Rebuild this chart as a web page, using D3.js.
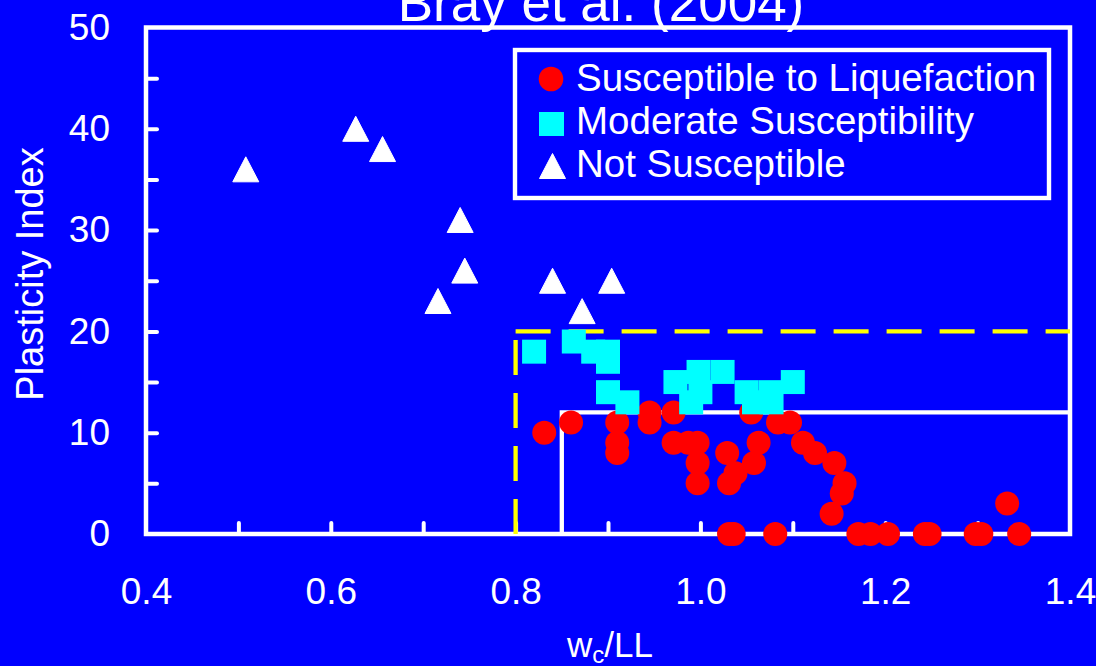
<!DOCTYPE html>
<html><head><meta charset="utf-8">
<script src="https://cdn.jsdelivr.net/npm/d3@7"></script>
<style>
html,body{margin:0;padding:0;background:#0000ff;overflow:hidden}
text{font-family:"Liberation Sans",Arial,sans-serif;fill:#fff}
</style>
</head><body>
<svg id="c" width="1096" height="666"></svg>
<script>
// ---- data ----
const titleText = "Bray et al. (2004)";
const seriesNames = ["Susceptible to Liquefaction", "Moderate Susceptibility", "Not Susceptible"];
const xTickLabels = [0.4, 0.6, 0.8, 1.0, 1.2, 1.4];
const xMinorTicks = [0.5, 0.6, 0.7, 0.8, 0.9, 1.0, 1.1, 1.2, 1.3];
const yTickLabels = [0, 10, 20, 30, 40, 50];
const yMinorTicks = [5, 10, 15, 20, 25, 30, 35, 40, 45];

const susceptible = [
  [0.831,10],[0.86,11],[0.91,11],[0.91,9],[0.91,8],[0.945,12],[0.945,11],
  [0.971,12],[0.971,9],[0.987,9],[0.997,9],[0.997,7],[0.997,5],
  [1.029,8],[1.038,6],[1.031,5],[1.055,12],[1.058,7],[1.063,9],
  [1.084,11],[1.097,11],[1.111,9],[1.124,8],[1.145,7],[1.156,5],[1.153,4],[1.142,2],
  [1.332,3],
  [1.031,0],[1.036,0],[1.081,0],[1.171,0],[1.184,0],[1.203,0],
  [1.243,0],[1.248,0],[1.298,0],[1.304,0],[1.345,0]
];
const moderate = [
  [0.82,18],[0.863,19],[0.884,18],[0.9,18],[0.9,17],[0.9,14],[0.921,13],
  [0.973,15],[0.99,13],[1.0,14],[0.998,16],[1.024,16],
  [1.05,14],[1.076,14],[1.058,13],[1.077,13],[1.1,15]
];
const notSusceptible = [
  [0.508,36],[0.627,40],[0.656,38],[0.74,31],[0.745,26],[0.716,23],
  [0.84,25],[0.904,25],[0.872,22]
];
const boundarySolid = [[0.85,0],[0.85,12],[1.4,12]];
const boundaryDashV = [[0.8,0],[0.8,20]];
const boundaryDashH = [[0.8,20],[1.4,20]];

// ---- chart ----
const svg = d3.select("#c");
const BLUE = "#0000ff", RED = "#ff0000", CYAN = "#00ffff", WHITE = "#ffffff", YELLOW = "#ffff00";
svg.append("rect").attr("width",1096).attr("height",666).attr("fill",BLUE);

const x = d3.scaleLinear().domain([0.4,1.4]).range([146,1070]);
const y = d3.scaleLinear().domain([0,50]).range([534,27.5]);

// inner ticks
const gxt = svg.append("g").attr("transform",`translate(0,${y(0)})`)
  .call(d3.axisBottom(x).tickValues(xMinorTicks).tickSize(-11).tickFormat(""));
const gyt = svg.append("g").attr("transform",`translate(${x(0.4)},0)`)
  .call(d3.axisLeft(y).tickValues(yMinorTicks).tickSize(-11).tickFormat(""));
[gxt,gyt].forEach(g=>{
  g.select(".domain").remove();
  g.selectAll("line").attr("stroke",WHITE).attr("stroke-width",4).attr("stroke-linecap","round");
});

// tick labels
const gxl = svg.append("g").attr("transform",`translate(0,${y(0)})`)
  .call(d3.axisBottom(x).tickValues(xTickLabels).tickSize(0).tickPadding(44).tickFormat(d3.format(".1f")));
const gyl = svg.append("g").attr("transform",`translate(${x(0.4)},0)`)
  .call(d3.axisLeft(y).tickValues(yTickLabels).tickSize(0).tickPadding(36).tickFormat(d3.format("d")));
[gxl,gyl].forEach(g=>{
  g.select(".domain").remove();
  g.selectAll("text").attr("fill",WHITE).style("font-size","37px")
    .style("font-family",'"Liberation Sans",Arial,sans-serif');
});

// frame
svg.append("rect").attr("x",x(0.4)).attr("y",y(50))
  .attr("width",x(1.4)-x(0.4)).attr("height",y(0)-y(50))
  .attr("fill","none").attr("stroke",WHITE).attr("stroke-width",4.5);

// boundaries
const line = d3.line().x(d=>x(d[0])).y(d=>y(d[1]));
[boundaryDashV, boundaryDashH].forEach(b=>{
  svg.append("path").attr("d",line(b)).attr("fill","none")
    .attr("stroke",YELLOW).attr("stroke-width",4.3).attr("stroke-dasharray","35,18");
});
svg.append("path").attr("d",line(boundarySolid)).attr("fill","none")
  .attr("stroke",WHITE).attr("stroke-width",4.3);

// markers
svg.append("g").selectAll("circle").data(susceptible).join("circle")
  .attr("cx",d=>x(d[0])).attr("cy",d=>y(d[1])).attr("r",12).attr("fill",RED);
svg.append("g").selectAll("rect").data(moderate).join("rect")
  .attr("x",d=>x(d[0])-12).attr("y",d=>y(d[1])-12).attr("width",24).attr("height",24).attr("fill",CYAN);
const triPath = "M0,-12.5L13,12.5L-13,12.5Z";
svg.append("g").selectAll("path").data(notSusceptible).join("path")
  .attr("transform",d=>`translate(${x(d[0])},${y(d[1])})`).attr("d",triPath)
  .attr("fill",WHITE).attr("stroke",WHITE).attr("stroke-width",1).attr("stroke-linejoin","round");

// legend
const lg = svg.append("g");
lg.append("rect").attr("x",515).attr("y",50).attr("width",534).attr("height",148)
  .attr("fill",BLUE).attr("stroke",WHITE).attr("stroke-width",4.4);
const rows = [91,134,177];
lg.append("circle").attr("cx",551).attr("cy",79).attr("r",12.3).attr("fill",RED);
lg.append("rect").attr("x",539).attr("y",112).attr("width",25).attr("height",24).attr("fill",CYAN);
lg.append("path").attr("transform","translate(552.5,166)").attr("d",triPath)
  .attr("fill",WHITE).attr("stroke",WHITE).attr("stroke-width",1).attr("stroke-linejoin","round");
seriesNames.forEach((n,i)=>{
  lg.append("text").attr("x",576).attr("y",rows[i]).style("font-size","38.5px").text(n);
});

// title & axis titles
svg.append("text").attr("x",601).attr("y",21).attr("text-anchor","middle")
  .style("font-size","53px").text(titleText);
svg.append("text").attr("transform","translate(43,274) rotate(-90)").attr("text-anchor","middle")
  .style("font-size","38px").text("Plasticity Index");
const xl = svg.append("text").attr("x",610).attr("y",657).attr("text-anchor","middle").style("font-size","35px");
xl.append("tspan").text("w");
xl.append("tspan").attr("dy",6).style("font-size","24px").text("c");
xl.append("tspan").attr("dy",-6).text("/LL");
</script>
</body></html>
